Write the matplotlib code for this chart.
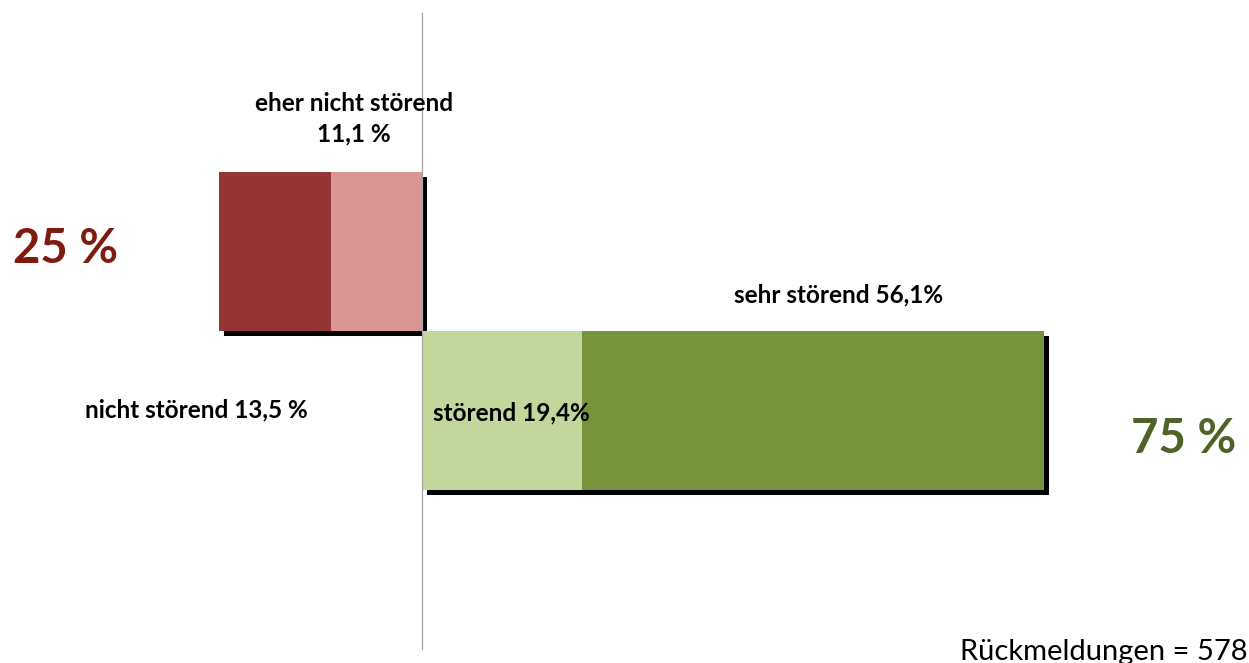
import matplotlib
matplotlib.use("Agg")
import matplotlib.pyplot as plt
import matplotlib.patheffects as pe

# Data
labels_neg = ["nicht störend", "eher nicht störend"]
values_neg = [13.5, 11.1]
labels_pos = ["störend", "sehr störend"]
values_pos = [19.4, 56.1]
total_neg_label = "25 %"
total_pos_label = "75 %"
n_text = "Rückmeldungen = 578"

colors_neg = ["#943634", "#D99694"]
colors_pos = ["#C3D69B", "#77933C"]

plt.rcParams['font.family'] = ['Lato', 'DejaVu Sans']

W, H = 1249, 663
fig = plt.figure(figsize=(W / 100, H / 100), dpi=100)
ax = fig.add_axes([0, 0, 1, 1])
ax.axis('off')

pxx = 8.24   # px per percent
pxy = 159.0  # px per bar unit
x0px, y0px = 422, 251
ax.set_xlim(-x0px / pxx, (W - x0px) / pxx)
ax.set_ylim((H - y0px) / pxy, -y0px / pxy)

shadow = [pe.SimplePatchShadow(offset=(3.6, -3.6), shadow_rgbFace='black', alpha=1.0), pe.Normal()]

# negative bar (row 0), drawn from the outside in
left = -sum(values_neg)
for v, c in zip(values_neg, colors_neg):
    b = ax.barh(0, v, left=left, height=1.0, color=c, zorder=2)
    for p in b:
        p.set_path_effects(shadow)
    left += v

# positive bar (row 1)
left = 0
for v, c in zip(values_pos, colors_pos):
    b = ax.barh(1, v, left=left, height=1.0, color=c, zorder=3)
    for p in b:
        p.set_path_effects(shadow)
    left += v

ax.plot([0, 0], [-1.5, 2.5], color='#a6a6a6', lw=0.9, zorder=5)

fs = 17.5
ax.text(-8.25, -0.83, f"{labels_neg[1]}\n{values_neg[1]:.1f} %".replace('.', ','),
        ha='center', va='center', fontsize=fs, fontweight='bold', linespacing=1.38, zorder=6)
ax.text(-27.4, 1.0, f"{labels_neg[0]} {values_neg[0]:.1f} %".replace('.', ','),
        ha='center', va='center', fontsize=fs, fontweight='bold', zorder=6)
ax.text(1.33, 1.02, f"{labels_pos[0]} {values_pos[0]:.1f}%".replace('.', ','),
        ha='left', va='center', fontsize=fs, fontweight='bold', zorder=6)
ax.text(50.5, 0.277, f"{labels_pos[1]} {values_pos[1]:.1f}%".replace('.', ','),
        ha='center', va='center', fontsize=fs, fontweight='bold', zorder=6)

ax.text(-43.3, -0.015, total_neg_label, ha='center', va='center', fontsize=34,
        fontweight='bold', color='#7F1A0E', zorder=6)
ax.text(92.4, 1.18, total_pos_label, ha='center', va='center', fontsize=34,
        fontweight='bold', color='#4F6228', zorder=6)

ax.text(100.2, 2.572, n_text, ha='right', va='baseline', fontsize=21, zorder=6)

fig.savefig("out.png", dpi=100)
